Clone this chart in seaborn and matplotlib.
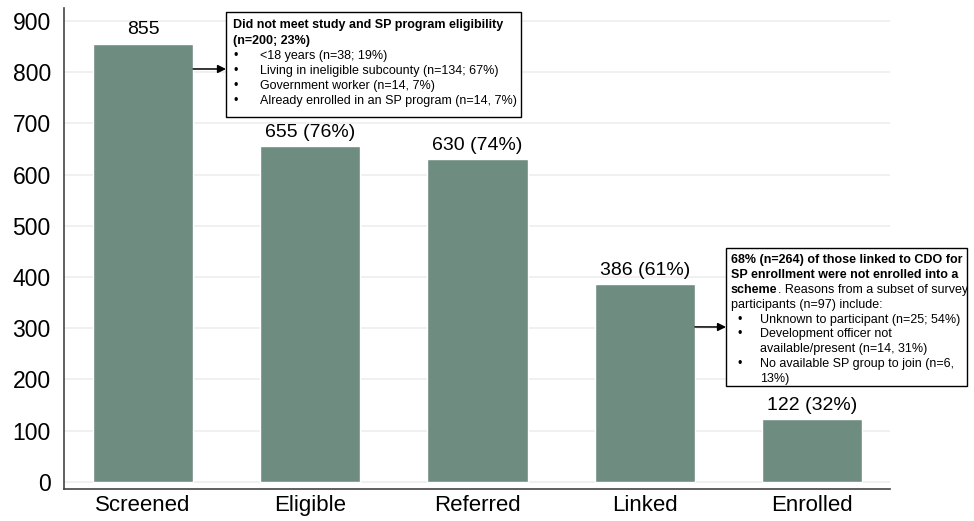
import matplotlib
matplotlib.use("Agg")
import matplotlib.pyplot as plt
import seaborn as sns
import pandas as pd
from matplotlib.patches import Rectangle

# cascade data
STAGES = ["Screened", "Eligible", "Referred", "Linked", "Enrolled"]
COUNTS = [855, 655, 630, 386, 122]
BAR_LABELS = ["855", "655 (76%)", "630 (74%)", "386 (61%)", "122 (32%)"]
Y_TICKS = [0, 100, 200, 300, 400, 500, 600, 700, 800, 900]

BOX1_HEADER = ["Did not meet study and SP program eligibility", "(n=200; 23%)"]
BOX1_BULLETS = [
    ["<18 years (n=38; 19%)"],
    ["Living in ineligible subcounty (n=134; 67%)"],
    ["Government worker (n=14, 7%)"],
    ["Already enrolled in an SP program (n=14, 7%)"],
]
BOX2_BOLD = ["68% (n=264) of those linked to CDO for", "SP enrollment were not enrolled into a"]
BOX2_MIXED = ("scheme", ". Reasons from a subset of survey")
BOX2_PLAIN = ["participants (n=97) include:"]
BOX2_BULLETS = [
    ["Unknown to participant (n=25; 54%)"],
    ["Development officer not", "available/present (n=14, 31%)"],
    ["No available SP group to join (n=6,", "13%)"],
]

BAR_COLOR = "#6e8c80"
W, H = 974, 521
BOX_FS = 9.0
LINE_H = 14.9


def px(x, y):
    # pixel position (from top-left) -> figure fraction
    return x / W, 1 - y / H


sns.set_style("white")
plt.rcParams["font.family"] = ["Liberation Sans", "DejaVu Sans"]
plt.rcParams["text.color"] = "black"
plt.rcParams["xtick.color"] = "black"
plt.rcParams["ytick.color"] = "black"

df = pd.DataFrame({"stage": STAGES, "count": COUNTS})

fig = plt.figure(figsize=(W / 100, H / 100), dpi=100)
ax = fig.add_axes([64 / W, 1 - 489 / H, (890 - 64) / W, (489 - 8) / H])

sns.barplot(data=df, x="stage", y="count", color=BAR_COLOR, saturation=1,
            width=0.6, ax=ax, zorder=2)

ax.set_xlim(-0.472, 4.466)
ax.set_ylim(-13.7, 925)
ax.set_yticks(Y_TICKS)
ax.set_xlabel("")
ax.set_ylabel("")
ax.yaxis.grid(True, color="#ededed", lw=1.2)
ax.set_axisbelow(True)
for s in ["top", "right"]:
    ax.spines[s].set_visible(False)
for s in ["left", "bottom"]:
    ax.spines[s].set_color("#444444")
    ax.spines[s].set_linewidth(1.2)
ax.tick_params(axis="y", length=4.5, width=1, color="#444444", labelcolor="black",
               pad=5, labelsize=16.5)
ax.tick_params(axis="x", length=0, pad=4, labelsize=16, labelcolor="black")

ax.bar_label(ax.containers[0], labels=BAR_LABELS, padding=4, fontsize=14, color="black")

# --- annotation box 1 (not eligible) ---
fig.add_artist(Rectangle(px(226, 117), 295 / W, 105 / H, transform=fig.transFigure,
                         facecolor="white", edgecolor="black", lw=1, zorder=5))
y = 25
for line in BOX1_HEADER:
    fig.text(*px(233, y), line, fontsize=BOX_FS, fontweight="bold", va="center", zorder=6)
    y += LINE_H * 1.05
for item in BOX1_BULLETS:
    fig.text(*px(234, y), "\u2022", fontsize=BOX_FS, va="center", zorder=6)
    for line in item:
        fig.text(*px(260, y), line, fontsize=BOX_FS, va="center", zorder=6)
        y += LINE_H * 1.0

ax.annotate("", xy=px(226, 69), xycoords="figure fraction",
            xytext=(0.3, 806), textcoords="data",
            arrowprops=dict(arrowstyle="-|>", color="black", lw=1.1,
                            mutation_scale=12, shrinkA=0, shrinkB=0), zorder=6)

# --- annotation box 2 (not enrolled) ---
fig.add_artist(Rectangle(px(726, 386), 241 / W, 138 / H, transform=fig.transFigure,
                         facecolor="white", edgecolor="black", lw=1, zorder=5))
y = 260
for line in BOX2_BOLD:
    fig.text(*px(731, y), line, fontsize=BOX_FS, fontweight="bold", va="center", zorder=6)
    y += LINE_H
t_bold = fig.text(*px(731, y), BOX2_MIXED[0], fontsize=BOX_FS, fontweight="bold",
                  va="center", zorder=6)
fig.canvas.draw()
bb = t_bold.get_window_extent()
fig.text(bb.x1 / W, 1 - y / H, BOX2_MIXED[1], fontsize=BOX_FS, va="center", zorder=6)
y += LINE_H
for line in BOX2_PLAIN:
    fig.text(*px(731, y), line, fontsize=BOX_FS, va="center", zorder=6)
    y += LINE_H
for item in BOX2_BULLETS:
    fig.text(*px(737, y), "\u2022", fontsize=BOX_FS, va="center", zorder=6)
    for line in item:
        fig.text(*px(760, y), line, fontsize=BOX_FS, va="center", zorder=6)
        y += LINE_H

ax.annotate("", xy=px(726, 327), xycoords="figure fraction",
            xytext=(3.3, 302.6), textcoords="data",
            arrowprops=dict(arrowstyle="-|>", color="black", lw=1.1,
                            mutation_scale=12, shrinkA=0, shrinkB=0), zorder=6)

fig.savefig("out.png", dpi=100)
